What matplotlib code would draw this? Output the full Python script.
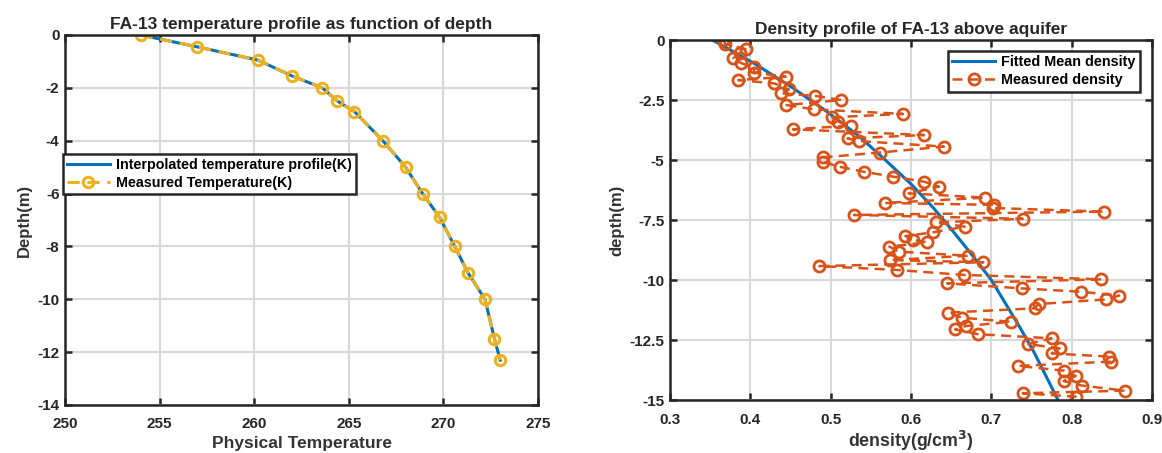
import matplotlib
matplotlib.use("Agg")
import matplotlib.pyplot as plt

plt.rcParams['font.family'] = ['Liberation Sans', 'DejaVu Sans']
plt.rcParams['font.weight'] = 'bold'
plt.rcParams['axes.unicode_minus'] = False

# ---- Left chart data: temperature profile ----
temp_measured = [254.0, 257.0, 260.2, 262.0, 263.6, 264.4, 265.3, 266.8, 268.0,
                 268.9, 269.8, 270.6, 271.3, 272.2, 272.7, 273.0]
temp_depth = [0.0, -0.45, -0.95, -1.55, -2.0, -2.5, -2.9, -4.0, -5.0,
              -6.0, -6.9, -8.0, -9.0, -10.0, -11.5, -12.3]

# ---- Right chart data: density profile ----
dens_measured = [0.366, 0.369, 0.395, 0.387, 0.379, 0.389, 0.404, 0.405, 0.444, 0.385,
                 0.430, 0.448, 0.438, 0.481, 0.513, 0.445, 0.479, 0.590, 0.502, 0.509,
                 0.525, 0.453, 0.616, 0.521, 0.535, 0.641, 0.561, 0.490, 0.490, 0.511,
                 0.541, 0.577, 0.616, 0.635, 0.597, 0.692, 0.568, 0.703, 0.702, 0.840,
                 0.529, 0.739, 0.631, 0.667, 0.628, 0.593, 0.603, 0.620, 0.573, 0.585,
                 0.671, 0.574, 0.690, 0.486, 0.582, 0.666, 0.837, 0.645, 0.738, 0.812,
                 0.859, 0.843, 0.759, 0.754, 0.646, 0.663, 0.724, 0.668, 0.655, 0.684,
                 0.775, 0.746, 0.785, 0.775, 0.846, 0.849, 0.733, 0.791, 0.805, 0.790,
                 0.813, 0.866, 0.739, 0.806]
dens_depth = [0.00, -0.17, -0.39, -0.53, -0.76, -0.97, -1.14, -1.36, -1.53, -1.67,
              -1.81, -2.06, -2.22, -2.33, -2.50, -2.71, -2.89, -3.08, -3.22, -3.40,
              -3.57, -3.72, -3.96, -4.10, -4.21, -4.44, -4.69, -4.89, -5.08, -5.28,
              -5.49, -5.69, -5.90, -6.11, -6.39, -6.57, -6.79, -6.87, -7.00, -7.15,
              -7.29, -7.45, -7.60, -7.78, -8.01, -8.17, -8.33, -8.43, -8.61, -8.82,
              -8.99, -9.17, -9.26, -9.42, -9.58, -9.79, -9.97, -10.14, -10.35, -10.49,
              -10.65, -10.81, -11.00, -11.18, -11.36, -11.57, -11.74, -11.92, -12.06, -12.26,
              -12.43, -12.67, -12.85, -13.06, -13.19, -13.40, -13.58, -13.78, -14.00, -14.21,
              -14.40, -14.61, -14.72, -14.86]
fit_depth = [0, -1, -2, -3, -4, -5, -6, -7, -8, -9, -10, -11, -12, -13, -14, -15]
fit_density = [0.353, 0.406, 0.453, 0.496, 0.535, 0.568, 0.600, 0.628, 0.653, 0.677,
               0.700, 0.718, 0.736, 0.753, 0.768, 0.783]

left_xticks = [250, 255, 260, 265, 270, 275]
left_yticks = [0, -2, -4, -6, -8, -10, -12, -14]
right_xticks = [0.3, 0.4, 0.5, 0.6, 0.7, 0.8, 0.9]
right_xticklabels = ['0.3', '0.4', '0.5', '0.6', '0.7', '0.8', '0.9']
right_yticks = [0, -2.5, -5, -7.5, -10, -12.5, -15]
right_yticklabels = ['0', '-2.5', '-5', '-7.5', '-10', '-12.5', '-15']

BLUE = '#0072BD'
ORANGE = '#D95319'
YELLOW = '#EDB120'
DARK = '#262626'

fig = plt.figure(figsize=(11.62, 4.53), dpi=100)
ax1 = fig.add_axes([65/1162, 48/453, 473/1162, 370/453])
ax2 = fig.add_axes([670/1162, 53/453, 482/1162, 360/453])


def style(ax):
    ax.grid(True, color='#d9d9d9', linewidth=1.5)
    ax.set_axisbelow(True)
    for s in ax.spines.values():
        s.set_linewidth(1.8)
        s.set_color(DARK)
    ax.tick_params(direction='in', length=5, width=1.8, top=True, right=True,
                   labelsize=11, colors=DARK, labelcolor=DARK)
    ax.tick_params(axis='x', pad=9)
    ax.tick_params(axis='y', pad=4)
    for lab in ax.get_xticklabels() + ax.get_yticklabels():
        lab.set_fontweight('bold')


def legend_style(leg):
    leg.get_frame().set_linewidth(1.8)
    for t in leg.get_texts():
        t.set_fontweight('bold')


# Left chart
ax1.plot(temp_measured, temp_depth, color=BLUE, linewidth=2.2,
         label='Interpolated temperature profile(K)')
ax1.plot(temp_measured, temp_depth, color=YELLOW, linestyle=(0, (4, 2.5)), linewidth=2.2,
         marker='o', markersize=7.5, markerfacecolor='none', markeredgewidth=2.2,
         label='Measured Temperature(K)')
ax1.set_xlim(250, 275)
ax1.set_ylim(-14, 0)
ax1.set_xticks(left_xticks)
ax1.set_yticks(left_yticks)
style(ax1)
ax1.set_title('FA-13 temperature profile as function of depth', fontsize=12.5,
              fontweight='bold', color=DARK, pad=4)
ax1.set_xlabel('Physical Temperature', fontsize=12.5, fontweight='bold', color='#333333', labelpad=3)
ax1.set_ylabel('Depth(m)', fontsize=12, fontweight='bold', color='#333333', labelpad=4)
leg1 = ax1.legend(loc='lower left', bbox_to_anchor=(-0.005, 0.569), borderaxespad=0,
                  fancybox=False, edgecolor=DARK, framealpha=1, fontsize=10.3,
                  handlelength=3.0, borderpad=0.3, labelspacing=0.3, handletextpad=0.4)
legend_style(leg1)

# Right chart
ax2.plot(fit_density, fit_depth, color=BLUE, linewidth=2.2, label='Fitted Mean density')
ax2.plot(dens_measured, dens_depth, color=ORANGE, linestyle=(0, (4, 2.5)), linewidth=1.8,
         marker='o', markersize=8, markerfacecolor='none', markeredgewidth=2,
         label='Measured density')
ax2.set_xlim(0.3, 0.9)
ax2.set_ylim(-15, 0)
ax2.set_xticks(right_xticks)
ax2.set_xticklabels(right_xticklabels)
ax2.set_yticks(right_yticks)
ax2.set_yticklabels(right_yticklabels)
style(ax2)
ax2.set_title('Density profile of FA-13 above aquifer', fontsize=12.5,
              fontweight='bold', color=DARK, pad=4)
ax2.set_xlabel('density(g/cm$^\\mathbf{3}$)', fontsize=12.8, fontweight='bold', color='#333333', labelpad=2)
ax2.set_ylabel('depth(m)', fontsize=12, fontweight='bold', color='#333333', labelpad=4)
leg2 = ax2.legend(loc='upper right', bbox_to_anchor=(0.975, 0.970), borderaxespad=0,
                  fancybox=False, edgecolor=DARK, framealpha=1, fontsize=10.4,
                  handlelength=3.0, borderpad=0.3, labelspacing=0.3, handletextpad=0.4)
legend_style(leg2)

fig.savefig('out.png', dpi=100)
